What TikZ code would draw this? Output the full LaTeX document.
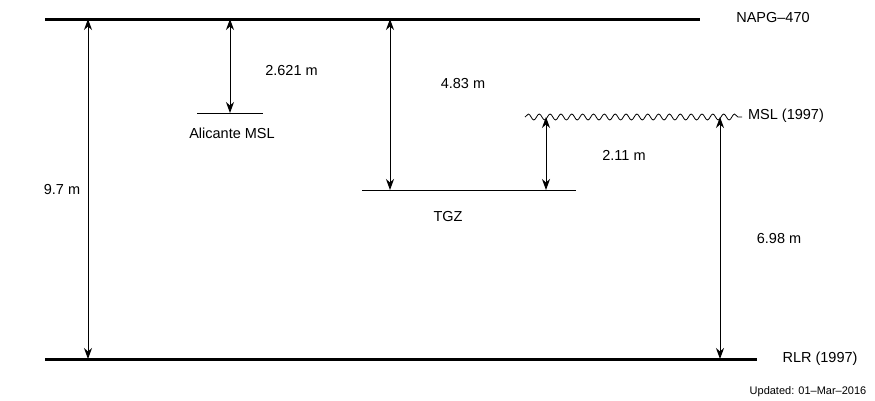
\documentclass[tikz,border=0pt]{standalone}
\usepackage{fontspec}
\setmainfont{Liberation Sans}
\usetikzlibrary{arrows.meta,decorations.pathmorphing}
\begin{document}
\begin{tikzpicture}[x=1pt,y=-1pt,
  lbl/.style={inner sep=0pt,font=\fontsize{14.5}{16}\selectfont},
  small/.style={inner sep=0pt,font=\fontsize{11}{13}\selectfont},
  datum/.style={line width=3pt},
  level/.style={line width=0.9pt},
  dim/.style={line width=0.9pt,{Stealth[length=11pt,width=8pt,inset=3.5pt]}-{Stealth[length=11pt,width=8pt,inset=3.5pt]}},
  wave/.style={line width=0.8pt,decorate,decoration={snake,segment length=10.85pt,amplitude=3pt}}]
\useasboundingbox (0,0) rectangle (875,400);
% datum lines
\coordinate (napgL) at (45,19);
\coordinate (napgR) at (700,19);
\coordinate (rlrL) at (45,359);
\coordinate (rlrR) at (757,359);
\draw[datum] (napgL) -- (napgR);
\draw[datum] (rlrL) -- (rlrR);
% level lines
\coordinate (aliL) at (197,113);
\coordinate (aliR) at (263,113);
\draw[level] (aliL) -- (aliR);
\coordinate (tgzL) at (362,190);
\coordinate (tgzR) at (576,190);
\draw[level] (tgzL) -- (tgzR);
\coordinate (mslL) at (525,117);
\coordinate (mslR) at (742,117);
\draw[wave] (mslL) -- (mslR);
% arrow end points
\coordinate (a1t) at (88,19);   \coordinate (a1b) at (88,359);
\coordinate (a2t) at (230,19);  \coordinate (a2b) at (230,113);
\coordinate (a3t) at (390,19);  \coordinate (a3b) at (390,190);
\coordinate (a4t) at (546,117); \coordinate (a4b) at (546,190);
\coordinate (a5t) at (720,117); \coordinate (a5b) at (720,359);
\draw[dim] (a1t) -- (a1b);
\draw[dim] (a2t) -- (a2b);
\draw[dim] (a3t) -- (a3b);
\draw[dim] (a4t) -- (a4b);
\draw[dim] (a5t) -- (a5b);
% labels
\node[lbl] (napg) at (773,18) {NAPG–470};
\node[lbl] (rlr) at (820,359) {RLR (1997)};
\node[lbl] (msl) at (786,115.5) {MSL (1997)};
\node[lbl] (ali) at (232,133) {Alicante MSL};
\node[lbl] (tgz) at (448,217) {TGZ};
\node[lbl] (d1) at (62,189.5) {9.7 m};
\node[lbl] (d2) at (291.5,71) {2.621 m};
\node[lbl] (d3) at (463,84) {4.83 m};
\node[lbl] (d4) at (624,155) {2.11 m};
\node[lbl] (d5) at (779,239) {6.98 m};
\node[small] (upd) at (808,392) {Updated: 01–Mar–2016};
\end{tikzpicture}
\end{document}
